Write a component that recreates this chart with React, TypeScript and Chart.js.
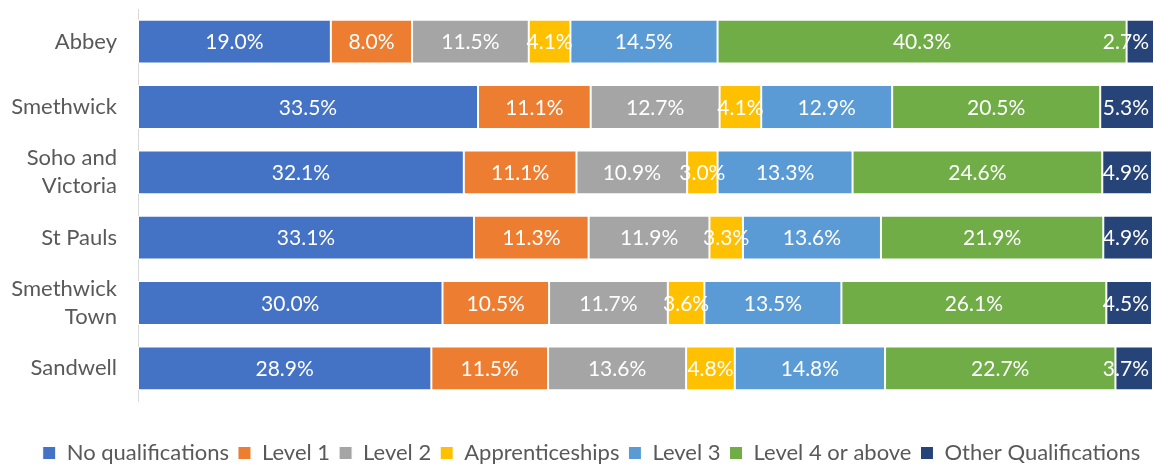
import React, { useEffect, useRef } from "react";
import { Chart, registerables } from "chart.js";

Chart.register(...registerables);

const categories: (string | string[])[] = [
  "Abbey",
  "Smethwick",
  ["Soho and", "Victoria"],
  "St Pauls",
  ["Smethwick", "Town"],
  "Sandwell",
];

const seriesNames = [
  "No qualifications",
  "Level 1",
  "Level 2",
  "Apprenticeships",
  "Level 3",
  "Level 4 or above",
  "Other Qualifications",
];

const noQualifications = [19.0, 33.5, 32.1, 33.1, 30.0, 28.9];
const level1 = [8.0, 11.1, 11.1, 11.3, 10.5, 11.5];
const level2 = [11.5, 12.7, 10.9, 11.9, 11.7, 13.6];
const apprenticeships = [4.1, 4.1, 3.0, 3.3, 3.6, 4.8];
const level3 = [14.5, 12.9, 13.3, 13.6, 13.5, 14.8];
const level4OrAbove = [40.3, 20.5, 24.6, 21.9, 26.1, 22.7];
const otherQualifications = [2.7, 5.3, 4.9, 4.9, 4.5, 3.7];

const seriesValues = [
  noQualifications,
  level1,
  level2,
  apprenticeships,
  level3,
  level4OrAbove,
  otherQualifications,
];

const seriesColors = [
  "#4472C4",
  "#ED7D31",
  "#A5A5A5",
  "#FFC000",
  "#5B9BD5",
  "#70AD47",
  "#264478",
];

const FONT = "Lato";
const LABEL_SIZE = 21;
const LEGEND_SHIFT = 15;

const segmentLabels = {
  id: "segmentLabels",
  beforeDraw(chart: any) {
    const lg = chart.legend;
    if (lg && !lg._shifted) {
      lg.left += LEGEND_SHIFT;
      lg.right += LEGEND_SHIFT;
      lg._shifted = true;
    }
  },
  afterDatasetsDraw(chart: any) {
    const ctx = chart.ctx;
    const area = chart.chartArea;
    ctx.save();
    ctx.font = `${LABEL_SIZE}px ${FONT}`;
    ctx.fillStyle = "#ffffff";
    ctx.textAlign = "center";
    ctx.textBaseline = "middle";
    chart.data.datasets.forEach((ds: any, i: number) => {
      const meta = chart.getDatasetMeta(i);
      meta.data.forEach((el: any, j: number) => {
        const v = ds.data[j];
        const text = v.toFixed(1) + "%";
        const p = el.getProps(["x", "base", "y"], true);
        const w = ctx.measureText(text).width;
        let cx = (p.x + p.base) / 2;
        const maxCx = area.right - 4 - w / 2;
        if (cx > maxCx) cx = maxCx;
        ctx.fillText(text, cx, p.y + 1);
      });
    });
    ctx.restore();
  },
};

export default function App() {
  const ref = useRef<HTMLCanvasElement | null>(null);

  useEffect(() => {
    if (!ref.current) return;
    const chart = new Chart(ref.current, {
      type: "bar",
      data: {
        labels: categories as any,
        datasets: seriesNames.map((name, i) => ({
          label: name,
          data: seriesValues[i],
          backgroundColor: seriesColors[i],
          borderColor: "#ffffff",
          borderWidth: 1,
          borderSkipped: false,
          barPercentage: 0.67,
          categoryPercentage: 1,
        })),
      },
      options: {
        indexAxis: "y",
        responsive: false,
        animation: false,
        layout: { padding: { top: 9, right: 1, left: 0, bottom: -9 } },
        plugins: {
          tooltip: { enabled: false },
          legend: {
            position: "bottom",
            labels: {
              color: "#595959",
              font: { family: FONT, size: 22 },
              boxWidth: 13,
              boxHeight: 13,
              padding: 9,
            },
          },
        },
        scales: {
          x: {
            stacked: true,
            min: 0,
            max: 100,
            grid: { display: false, drawTicks: false },
            border: { display: false },
            ticks: { display: false },
            afterFit: (s: any) => {
              s.height = 32;
            },
          },
          y: {
            stacked: true,
            grid: { display: false, drawTicks: false },
            border: { display: true, color: "#d9d9d9", width: 1 },
            ticks: {
              color: "#595959",
              font: { family: FONT, size: 22, lineHeight: 1.27 },
              padding: 21,
            },
            afterFit: (s: any) => {
              s.width = 138;
              s.paddingTop = 0;
              s.paddingBottom = 0;
            },
          },
        },
      },
      plugins: [segmentLabels],
    });
    return () => chart.destroy();
  }, []);

  return (
    <div style={{ position: "absolute", left: 0, top: 0, width: 1154, height: 465, background: "#fff" }}>
      <canvas ref={ref} width={1154} height={465} />
    </div>
  );
}
